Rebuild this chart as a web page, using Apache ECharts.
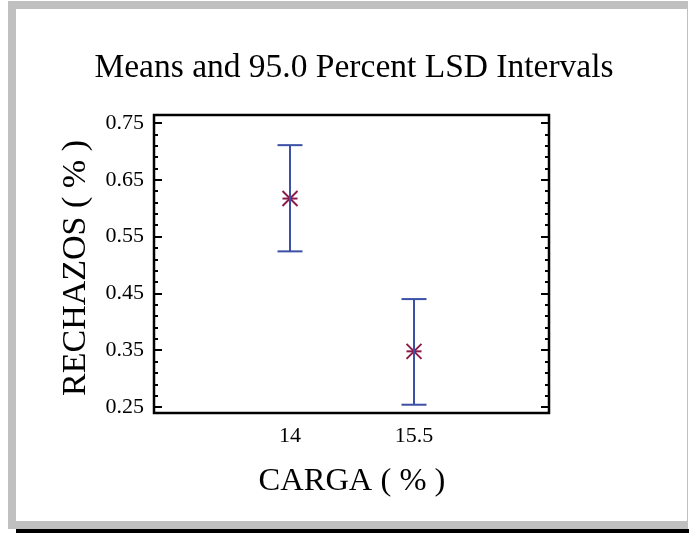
<!DOCTYPE html>
<html>
<head>
<meta charset="utf-8">
<script src="https://cdn.jsdelivr.net/npm/echarts@6/dist/echarts.min.js"></script>
<style>
    html, body { margin: 0; padding: 0; background: #fff; }
    #frame_outer { position: absolute; left: 8px; top: 1px; width: 680px; height: 528px; background: #c0c0c0; }
    #frame_inner { position: absolute; left: 16px; top: 9px; width: 671px; height: 512px; background: #fff; }
    #frame_shadow { position: absolute; left: 16px; top: 529px; width: 673px; height: 4px; background: #000; }
    #lsd_chart { position: absolute; left: 0; top: 0; width: 689px; height: 533px; }
</style>
</head>
<body>
<div id="frame_outer"></div>
<div id="frame_inner"></div>
<div id="frame_shadow"></div>
<div id="lsd_chart"></div>
<script>
// Data
var categories = ['14', '15.5'];
var means = [0.617, 0.348];
var lowerLimits = [0.524, 0.254];
var upperLimits = [0.711, 0.440];

// Y scale
var yMin = 0.25;
var yMax = 0.75;
var yStep = 0.1;

var _lsdIntervalsExample = function () {
    if (typeof echarts == 'undefined') {
        console.warn('Warning - echarts.min.js is not loaded.');
        return;
    }

    var chart_element = document.getElementById('lsd_chart');
    if (!chart_element) return;

    var chart = echarts.init(chart_element, null, { renderer: 'canvas' });

    var fontSerif = '"Liberation Serif", "DejaVu Serif", serif';
    var barColor = '#3c50a5';
    var markColor = '#8b1a4b';

    // one row per level: index, mean, lower, upper
    var rows = categories.map(function (c, i) {
        return [i, means[i], lowerLimits[i], upperLimits[i]];
    });

    var yAxisBase = {
        type: 'value',
        min: yMin,
        max: yMax,
        interval: yStep,
        splitLine: { show: false },
        axisLine: { show: false },
        axisTick: {
            show: true,
            inside: true,
            length: 8,
            lineStyle: { color: '#000', width: 2 }
        },
        minorTick: {
            show: true,
            splitNumber: 5,
            length: 4,
            lineStyle: { color: '#000', width: 2 }
        }
    };

    chart.setOption({
        backgroundColor: 'transparent',
        animation: false,

        textStyle: {
            fontFamily: fontSerif,
            color: '#000'
        },

        // Title
        title: {
            text: 'Means and 95.0 Percent LSD Intervals',
            left: 349,
            top: 46,
            textAlign: 'center',
            textStyle: {
                fontFamily: fontSerif,
                fontSize: 33.5,
                fontWeight: 'normal',
                color: '#000'
            }
        },

        grid: {
            left: 228,
            top: 123,
            width: 248,
            height: 284
        },

        xAxis: {
            type: 'category',
            data: categories,
            boundaryGap: true,
            axisLine: { show: false },
            axisTick: { show: false },
            splitLine: { show: false },
            axisLabel: {
                fontFamily: fontSerif,
                fontSize: 22,
                color: '#000',
                margin: 18
            },
            name: 'CARGA ( % )',
            nameLocation: 'middle',
            nameGap: 58,
            nameTextStyle: {
                fontFamily: fontSerif,
                fontSize: 32.5,
                color: '#000'
            }
        },

        yAxis: [
            Object.assign({}, yAxisBase, {
                position: 'left',
                offset: 74,
                axisLabel: {
                    fontFamily: fontSerif,
                    fontSize: 22,
                    color: '#000',
                    margin: 10,
                    formatter: function (v) { return v.toFixed(2); }
                },
                name: 'RECHAZOS ( % )',
                nameLocation: 'middle',
                nameGap: 61,
                nameTextStyle: {
                    fontFamily: fontSerif,
                    fontSize: 34,
                    color: '#000',
                    padding: [0, 6, 0, 0]
                }
            }),
            Object.assign({}, yAxisBase, {
                position: 'right',
                offset: 73,
                axisLabel: { show: false }
            })
        ],

        // Plot frame
        graphic: [{
            type: 'rect',
            z: 100,
            shape: { x: 154, y: 115, width: 395, height: 298 },
            style: { fill: null, stroke: '#000', lineWidth: 2.5 }
        }],

        series: [{
            type: 'custom',
            name: 'LSD',
            xAxisIndex: 0,
            yAxisIndex: 0,
            data: rows,
            encode: { x: 0, y: [1, 2, 3] },
            renderItem: function (params, api) {
                var x = api.value(0);
                var pMean = api.coord([x, api.value(1)]);
                var pLow = api.coord([x, api.value(2)]);
                var pHigh = api.coord([x, api.value(3)]);
                var cap = 12.5;
                var s = 7.5;
                var lineStyle = { stroke: barColor, lineWidth: 2 };
                var starStyle = { stroke: markColor, lineWidth: 2 };
                return {
                    type: 'group',
                    children: [
                        // asterisk for the mean
                        { type: 'line', shape: { x1: pMean[0] - s, y1: pMean[1], x2: pMean[0] + s, y2: pMean[1] }, style: starStyle },
                        { type: 'line', shape: { x1: pMean[0] - s, y1: pMean[1] - s, x2: pMean[0] + s, y2: pMean[1] + s }, style: starStyle },
                        { type: 'line', shape: { x1: pMean[0] - s, y1: pMean[1] + s, x2: pMean[0] + s, y2: pMean[1] - s }, style: starStyle },
                        // interval
                        { type: 'line', shape: { x1: pLow[0], y1: pLow[1], x2: pHigh[0], y2: pHigh[1] }, style: lineStyle },
                        { type: 'line', shape: { x1: pHigh[0] - cap, y1: pHigh[1], x2: pHigh[0] + cap, y2: pHigh[1] }, style: lineStyle },
                        { type: 'line', shape: { x1: pLow[0] - cap, y1: pLow[1], x2: pLow[0] + cap, y2: pLow[1] }, style: lineStyle }
                    ]
                };
            }
        }]
    });

    window.addEventListener('resize', function () {
        chart.resize();
    });
};

_lsdIntervalsExample();
</script>
</body>
</html>
